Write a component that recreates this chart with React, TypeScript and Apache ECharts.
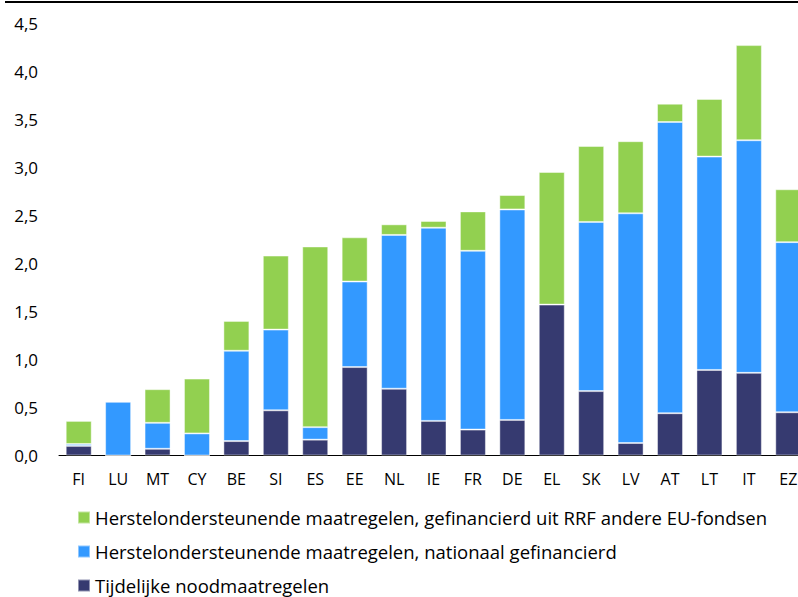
import React, { useEffect, useRef } from "react";
import * as echarts from "echarts";

const categories = ["FI", "LU", "MT", "CY", "BE", "SI", "ES", "EE", "NL", "IE", "FR", "DE", "EL", "SK", "LV", "AT", "LT", "IT", "EZ"];

const emergency = [0.10, 0.0, 0.07, 0.0, 0.15, 0.47, 0.165, 0.92, 0.695, 0.36, 0.27, 0.37, 1.57, 0.67, 0.13, 0.44, 0.89, 0.86, 0.45];
const national = [0.02, 0.56, 0.27, 0.23, 0.94, 0.84, 0.13, 0.89, 1.60, 2.01, 1.86, 2.19, -0.02, 1.76, 2.39, 3.03, 2.22, 2.42, 1.77];
const euFunded = [0.24, 0.0, 0.35, 0.57, 0.31, 0.77, 1.88, 0.46, 0.11, 0.07, 0.41, 0.15, 1.38, 0.79, 0.75, 0.19, 0.60, 0.99, 0.55];

const seriesNames = [
  "Herstelondersteunende maatregelen, gefinancierd uit RRF andere EU-fondsen",
  "Herstelondersteunende maatregelen, nationaal gefinancierd",
  "Tijdelijke noodmaatregelen",
];

const FONT = "'Open Sans', sans-serif";
const CHART_W = 810;
const CHART_H = 660;

export default function App() {
  const ref = useRef<HTMLDivElement>(null);
  useEffect(() => {
    if (!ref.current) return;
    const chart = echarts.init(ref.current, null, { renderer: "svg" });
    const border = { borderColor: "rgba(255,255,255,0.45)", borderWidth: 1 };
    chart.setOption({
      animation: false,
      backgroundColor: "#ffffff",
      grid: { left: 59, top: 23, width: 749, bottom: CHART_H - 455.5, containLabel: false },
      xAxis: {
        type: "category",
        data: categories,
        axisLine: { lineStyle: { color: "#000000", width: 1 } },
        axisTick: { show: false },
        axisLabel: { color: "#000000", fontSize: 16, fontFamily: FONT, margin: 15, interval: 0 },
      },
      yAxis: {
        type: "value",
        min: 0,
        max: 4.5,
        interval: 0.5,
        axisLine: { show: false },
        axisTick: { show: false },
        splitLine: { show: false },
        axisLabel: {
          color: "#000000",
          fontSize: 17,
          fontFamily: FONT,
          margin: 21,
          formatter: (v: number) => v.toFixed(1).replace(".", ","),
        },
      },
      legend: {
        orient: "vertical",
        left: 77,
        top: 508,
        padding: 0,
        itemWidth: 12,
        itemHeight: 12,
        itemGap: 15,
        icon: "rect",
        data: [seriesNames[0], seriesNames[1], seriesNames[2]],
        textStyle: { color: "#000000", fontSize: 18.5, fontFamily: FONT },
      },
      graphic: [
        {
          type: "line",
          shape: { x1: 5, y1: 2, x2: 798, y2: 2 },
          style: { stroke: "#000000", lineWidth: 2 },
        },
      ],
      series: [
        {
          name: seriesNames[2],
          type: "bar",
          stack: "total",
          data: emergency,
          barWidth: 26,
          itemStyle: { color: "#363A70", ...border },
        },
        {
          name: seriesNames[1],
          type: "bar",
          stack: "total",
          data: national,
          barWidth: 26,
          itemStyle: { color: "#3399FF", ...border },
        },
        {
          name: seriesNames[0],
          type: "bar",
          stack: "total",
          data: euFunded,
          barWidth: 26,
          itemStyle: { color: "#92D050", ...border },
        },
      ],
    });
    return () => chart.dispose();
  }, []);
  return (
    <div style={{ position: "fixed", left: 0, top: 0, width: 798, height: 597, overflow: "hidden", background: "#fff" }}>
      <div ref={ref} style={{ width: CHART_W, height: CHART_H }} />
    </div>
  );
}
